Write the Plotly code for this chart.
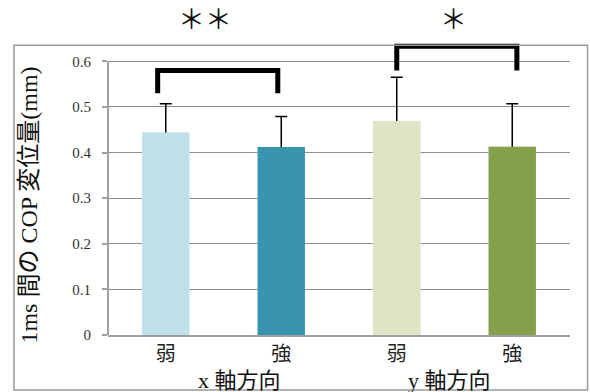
import plotly.graph_objects as go

# ---- data ----
categories = ["弱", "強", "弱", "強"]
means = [0.444, 0.412, 0.469, 0.413]
sd_plus = [0.063, 0.067, 0.096, 0.094]
bar_colors = ["#c1e1ea", "#3894ac", "#dee4c4", "#84a04b"]
yticks = [0, 0.1, 0.2, 0.3, 0.4, 0.5, 0.6]
ytick_labels = ["0", "0.1", "0.2", "0.3", "0.4", "0.5", "0.6"]
group_labels = ["x 軸方向", "y 軸方向"]
group_pos = [0.64, 2.46]
# significance brackets: x ends, leg bottom, top
brackets_x = [[-0.07, 0.97], [2.0, 3.04]]
brackets_low = [0.530, 0.580]
brackets_top = [0.580, 0.633]
sig_text = ["＊＊", "＊"]
sig_x = [0.34, 2.49]

x = list(range(len(categories)))
SERIF = "Liberation Serif, DejaVu Serif, Noto Sans CJK JP"

fig = go.Figure()
# underlying trace carrying error bars (its lower half hidden by the bars above)
fig.add_trace(go.Bar(
    x=x, y=means, marker_color="rgba(0,0,0,0)", hoverinfo="skip",
    error_y=dict(type="data", array=sd_plus, symmetric=True,
                 color="black", thickness=1.5, width=6),
))
fig.add_trace(go.Bar(x=x, y=means, marker=dict(color=bar_colors, line_width=0)))

for (xa, xb), lo, hi in zip(brackets_x, brackets_low, brackets_top):
    fig.add_trace(go.Scatter(
        x=[xa, xa, xb, xb], y=[lo, hi, hi, lo], mode="lines",
        line=dict(color="black", width=5), hoverinfo="skip",
    ))

for t, sx in zip(sig_text, sig_x):
    fig.add_annotation(x=sx, y=1.047, xref="x", yref="paper", text=t,
                       showarrow=False, yanchor="middle",
                       font=dict(family=SERIF, size=27, color="#111"))

for t, gx in zip(group_labels, group_pos):
    fig.add_annotation(x=gx, y=0, xref="x", yref="paper", text=t, showarrow=False,
                       yanchor="top", yshift=-31,
                       font=dict(family=SERIF, size=22, color="#111"))

# y-axis title
fig.add_annotation(x=0, y=0.43, xref="paper", yref="paper", xshift=-79,
                   xanchor="center", yanchor="middle",
                   text="1ms 間の COP 変位量(mm)", textangle=-90, showarrow=False,
                   font=dict(family=SERIF, size=24, color="#111"))

# left axis line (0 to 0.6)
fig.add_shape(type="line", xref="x domain", yref="y", x0=0, x1=0,
              y0=yticks[0], y1=yticks[-1], line=dict(color="#a0a0a0", width=2))
# outer frame
fig.add_shape(type="rect", xref="paper", yref="paper",
              x0=-0.2035, x1=1.038, y0=-0.1827, y1=0.963,
              line=dict(color="#999999", width=1.5), fillcolor="rgba(0,0,0,0)")

fig.update_layout(
    width=590, height=392,
    margin=dict(l=108, r=20, t=34, b=57),
    plot_bgcolor="white", paper_bgcolor="white",
    barmode="overlay", bargap=0.59, showlegend=False,
    font=dict(family=SERIF, color="#222"),
)
fig.update_xaxes(range=[-0.5, 3.5], tickvals=x, ticktext=categories,
                 tickfont=dict(family=SERIF, size=20, color="#222"),
                 showline=True, linecolor="#a0a0a0", linewidth=1.5,
                 showgrid=False, zeroline=False, ticks="")
fig.update_yaxes(range=[0, 0.66], tickvals=yticks, ticktext=ytick_labels,
                 tickfont=dict(family=SERIF, size=15, color="#333"),
                 showgrid=True, gridcolor="#8c8c8c", gridwidth=1,
                 showline=False, zeroline=False, ticklabelstandoff=8,
                 ticks="outside", ticklen=5, tickcolor="#a0a0a0", tickwidth=1.5)

fig.write_html("out.html")
